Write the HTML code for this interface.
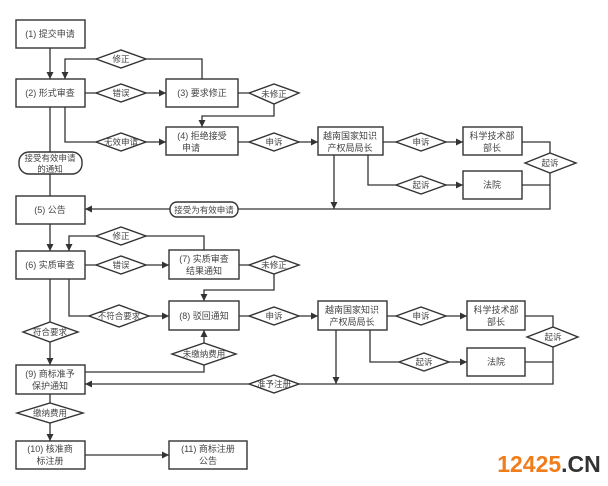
<!DOCTYPE html>
<html><head><meta charset="utf-8"><style>
html,body{margin:0;padding:0;background:#fff;width:608px;height:486px;overflow:hidden}
svg{display:block}
text{font-family:"Liberation Sans","Noto Sans CJK SC",sans-serif;font-size:9px;fill:#444;text-anchor:middle;dominant-baseline:central}
text.d{font-size:8.5px}
.b{fill:#fff;stroke:#333;stroke-width:1.4}
.l{fill:none;stroke:#333;stroke-width:1.3}
</style></head><body>
<svg width="608" height="486" viewBox="0 0 608 486">
<defs><marker id="a" viewBox="0 0 10 10" refX="10" refY="5" markerWidth="7" markerHeight="7" markerUnits="userSpaceOnUse" orient="auto"><path d="M0,0L10,5L0,10z" fill="#333"/></marker></defs>
<g class="l">
<path d="M50,48V79" marker-end="url(#a)"/>
<path d="M202,79V59H65V79" marker-end="url(#a)"/>
<path d="M85,93H166" marker-end="url(#a)"/>
<path d="M238,93H274V116H202V127" marker-end="url(#a)"/>
<path d="M65,107V142H166" marker-end="url(#a)"/>
<path d="M238,142H318" marker-end="url(#a)"/>
<path d="M383,142H463" marker-end="url(#a)"/>
<path d="M368,155V185H463" marker-end="url(#a)"/>
<path d="M522,142H550V209H85" marker-end="url(#a)"/>
<path d="M522,185H550"/>
<path d="M334,155V209" marker-end="url(#a)"/>
<path d="M50,107V196"/>
<path d="M50,224V251" marker-end="url(#a)"/>
<path d="M204,250V236H69V251" marker-end="url(#a)"/>
<path d="M85,265H169" marker-end="url(#a)"/>
<path d="M239,265H274V290H204V301" marker-end="url(#a)"/>
<path d="M69,279V316H169" marker-end="url(#a)"/>
<path d="M239,316H318" marker-end="url(#a)"/>
<path d="M387,316H467" marker-end="url(#a)"/>
<path d="M370,330V362H467" marker-end="url(#a)"/>
<path d="M525,316H553V384H85" marker-end="url(#a)"/>
<path d="M525,362H553"/>
<path d="M336,330V384" marker-end="url(#a)"/>
<path d="M50,279V365" marker-end="url(#a)"/>
<path d="M85,372H204V330" marker-end="url(#a)"/>
<path d="M50,394V441" marker-end="url(#a)"/>
<path d="M85,455H169" marker-end="url(#a)"/>
</g>
<g class="b">
<rect x="16" y="20" width="69" height="28"/>
<rect x="16" y="79" width="69" height="28"/>
<rect x="166" y="79" width="72" height="28"/>
<rect x="166" y="127" width="72" height="28"/>
<rect x="318" y="127" width="65" height="28"/>
<rect x="463" y="127" width="59" height="28"/>
<rect x="463" y="171" width="59" height="28"/>
<rect x="16" y="196" width="69" height="28"/>
<rect x="19" y="152" width="63" height="22" rx="10"/>
<rect x="170" y="202" width="68" height="15" rx="7"/>
<rect x="16" y="251" width="69" height="28"/>
<rect x="169" y="250" width="70" height="29"/>
<rect x="169" y="301" width="70" height="29"/>
<rect x="318" y="301" width="69" height="29"/>
<rect x="467" y="301" width="58" height="29"/>
<rect x="467" y="348" width="58" height="28"/>
<rect x="16" y="365" width="69" height="29"/>
<rect x="16" y="441" width="69" height="28"/>
<rect x="169" y="441" width="78" height="28"/>
<polygon points="96,59 121,50 146,59 121,68"/>
<polygon points="96,93 121,84 146,93 121,102"/>
<polygon points="249,93 274,84 299,93 274,104"/>
<polygon points="96,142 121,133 146,142 121,151"/>
<polygon points="249,142 274,133 299,142 274,151"/>
<polygon points="396,142 421,133 446,142 421,151"/>
<polygon points="396,185 421,176 446,185 421,194"/>
<polygon points="525,163 550,153 576,163 550,173"/>
<polygon points="96,236 121,227 146,236 121,245"/>
<polygon points="96,265 121,256 146,265 121,274"/>
<polygon points="249,265 274,256 299,265 274,274"/>
<polygon points="89,316 119,305 149,316 119,327"/>
<polygon points="249,316 274,307 299,316 274,325"/>
<polygon points="396,316 421,307 446,316 421,325"/>
<polygon points="399,362 424,353 449,362 424,371"/>
<polygon points="527,337 553,327 578,337 553,347"/>
<polygon points="23,332 50,322 78,332 50,342"/>
<polygon points="172,354 204,343 236,354 204,365"/>
<polygon points="249,384 274,375 299,384 274,393"/>
<polygon points="17,413 50,403 83,413 50,423"/>
</g>
<text x="50" y="34">(1) 提交申请</text>
<text x="50" y="93">(2) 形式审查</text>
<text x="202" y="93">(3) 要求修正</text>
<text x="202" y="136">(4) 拒绝接受</text><text x="191" y="148">申请</text>
<text x="350" y="136">越南国家知识</text><text x="350" y="148">产权局局长</text>
<text x="492" y="136">科学技术部</text><text x="492" y="148">部长</text>
<text x="492" y="185">法院</text>
<text x="50" y="210">(5) 公告</text>
<text class="d" x="50" y="158">接受有效申请</text><text class="d" x="50" y="169">的通知</text>
<text class="d" x="204" y="210">接受为有效申请</text>
<text class="d" x="121" y="59">修正</text><text class="d" x="121" y="93">错误</text><text class="d" x="274" y="94">未修正</text>
<text class="d" x="121" y="142">无效申请</text><text class="d" x="274" y="142">申诉</text><text class="d" x="421" y="142">申诉</text>
<text class="d" x="421" y="185">起诉</text><text class="d" x="550" y="163">起诉</text>
<text x="50" y="265">(6) 实质审查</text>
<text x="204" y="259">(7) 实质审查</text><text x="204" y="271">结果通知</text>
<text x="204" y="316">(8) 驳回通知</text>
<text x="352" y="310">越南国家知识</text><text x="352" y="322">产权局局长</text>
<text x="496" y="310">科学技术部</text><text x="496" y="322">部长</text>
<text x="496" y="362">法院</text>
<text x="50" y="374">(9) 商标准予</text><text x="50" y="386">保护通知</text>
<text x="50" y="449">(10) 核准商</text><text x="50" y="461">标注册</text>
<text x="208" y="449">(11) 商标注册</text><text x="208" y="461">公告</text>
<text class="d" x="121" y="236">修正</text><text class="d" x="121" y="265">错误</text><text class="d" x="274" y="265">未修正</text>
<text class="d" x="119" y="316">不符合要求</text><text class="d" x="274" y="316">申诉</text><text class="d" x="421" y="316">申诉</text>
<text class="d" x="424" y="362">起诉</text><text class="d" x="553" y="337">起诉</text>
<text class="d" x="50" y="332">符合要求</text><text class="d" x="204" y="354">未缴纳费用</text>
<text class="d" x="274" y="384">准予注册</text><text class="d" x="50" y="413">缴纳费用</text>
<text x="549" y="464" style="font-size:23px;font-weight:bold;fill:#f07c1a;font-family:'Liberation Sans',sans-serif">12425<tspan style="fill:#333">.CN</tspan></text>
</svg>
</body></html>
